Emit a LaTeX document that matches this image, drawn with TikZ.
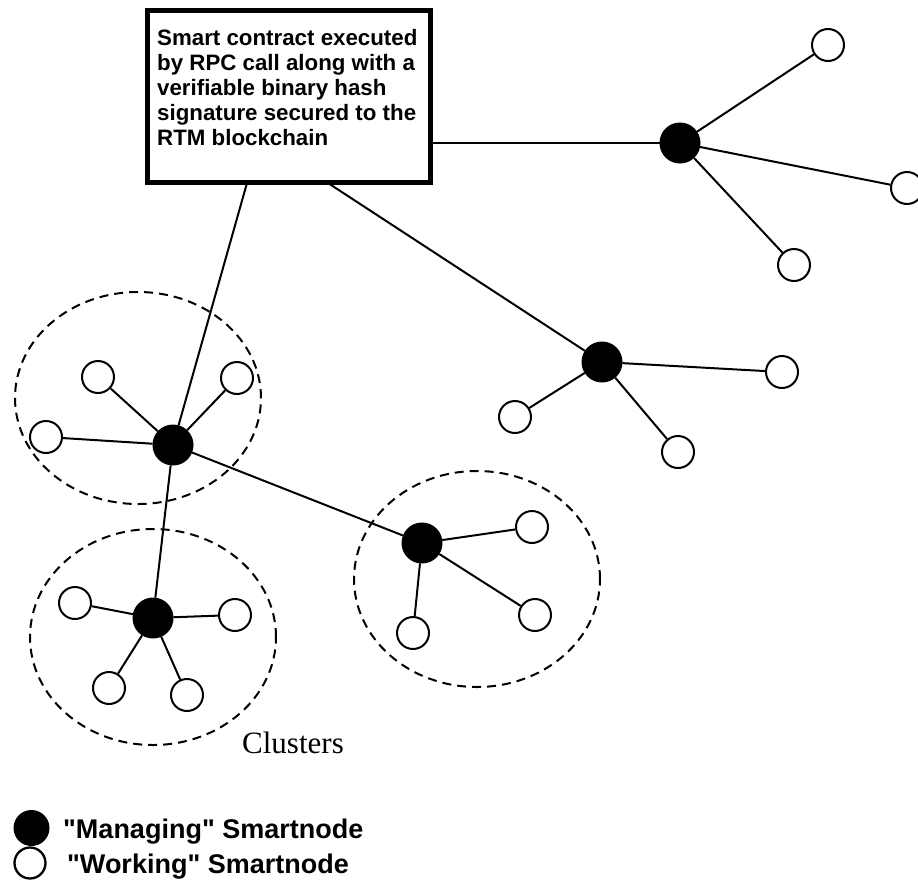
\documentclass[tikz,border=0pt]{standalone}
\usepackage{fontspec}
\setmainfont{Liberation Sans}
\newfontfamily\legfont{Liberation Sans}
\newfontfamily\clusterfont{Liberation Serif}
\begin{document}
\begin{tikzpicture}[x=1pt,y=-1pt,
  mgr/.style={circle, fill=black, draw=black, line width=1pt, minimum size=40pt, inner sep=0pt},
  wrk/.style={circle, fill=white, draw=black, line width=2pt, minimum size=32pt, inner sep=0pt},
  link/.style={line width=2pt},
  cluster/.style={draw, line width=2pt, dash pattern=on 9pt off 6pt},
  boxtext/.style={font=\bfseries\fontsize{22.3}{25}\selectfont, align=left, inner sep=0pt, anchor=north west},
  legtext/.style={font=\legfont\bfseries\fontsize{27}{30}\selectfont, inner sep=0pt, anchor=base west}]
\useasboundingbox (0,0) rectangle (918,881);

% clusters
\draw[cluster] (138,398) ellipse [x radius=123pt, y radius=106pt];
\draw[cluster] (153,637) ellipse [x radius=123pt, y radius=108pt];
\draw[cluster] (477,579) ellipse [x radius=123pt, y radius=108pt];

% box
\node (box) [draw, line width=5pt, minimum width=283pt, minimum height=172pt, inner sep=0pt] at (289,96) {};
\node (boxtxt) [boxtext] at (157,28.7) {Smart contract executed\\by RPC call along with a\\verifiable binary hash\\signature secured to the\\RTM blockchain};
\coordinate (b1) at (247,183);
\coordinate (b2) at (328,183);

% managing nodes
\node (m1) [mgr] at (680,143) {};
\node (m2) [mgr] at (602,362) {};
\node (m3) [mgr] at (173,445) {};
\node (m4) [mgr] at (422,543) {};
\node (m5) [mgr] at (153,618) {};

% working nodes
\node (w11) [wrk] at (828,45) {};
\node (w12) [wrk] at (907,188) {};
\node (w13) [wrk] at (794,265) {};
\node (w21) [wrk] at (782,372) {};
\node (w22) [wrk] at (515,417) {};
\node (w23) [wrk] at (678,452) {};
\node (w31) [wrk] at (98,377) {};
\node (w32) [wrk] at (237,378) {};
\node (w33) [wrk] at (46,437) {};
\node (w41) [wrk] at (532,527) {};
\node (w42) [wrk] at (535,615) {};
\node (w43) [wrk] at (413,633) {};
\node (w51) [wrk] at (75,603) {};
\node (w52) [wrk] at (235,615) {};
\node (w53) [wrk] at (109,688) {};
\node (w54) [wrk] at (187,695) {};

% connectors
\draw[link] (box.east |- m1) -- (m1);
\draw[link] (b2) -- (m2);
\draw[link] (b1) -- (m3);
\draw[link] (m3) -- (m5);
\draw[link] (m3) -- (m4);
\foreach \w in {w11,w12,w13} \draw[link] (m1) -- (\w);
\foreach \w in {w21,w22,w23} \draw[link] (m2) -- (\w);
\foreach \w in {w31,w32,w33} \draw[link] (m3) -- (\w);
\foreach \w in {w41,w42,w43} \draw[link] (m4) -- (\w);
\foreach \w in {w51,w52,w53,w54} \draw[link] (m5) -- (\w);

% label
\node (clab) [anchor=base west, inner sep=0pt, font=\clusterfont\fontsize{31}{36}\selectfont] at (242,753) {Clusters};

% legend
\node (lm) [circle, fill=black, minimum size=36pt, inner sep=0pt] at (31.5,828) {};
\node (lw) [circle, draw=black, line width=2.3pt, fill=white, minimum size=31pt, inner sep=0pt] at (30,863) {};
\node (lmt) [legtext] at (63,838) {"Managing" Smartnode};
\node (lwt) [legtext] at (67,873) {"Working" Smartnode};
\end{tikzpicture}
\end{document}
